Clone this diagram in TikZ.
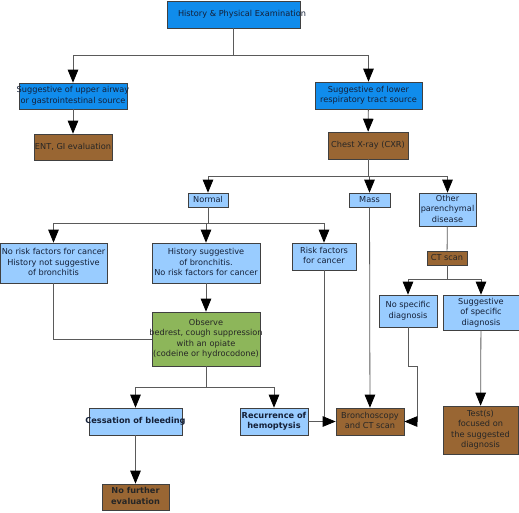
\documentclass[tikz,border=0pt]{standalone}
\usepackage{fontspec}
\setmainfont{DejaVu Sans}
\usetikzlibrary{arrows.meta}
\definecolor{bblue}{RGB}{16,140,236}
\definecolor{lblue}{RGB}{153,204,255}
\definecolor{bbrown}{RGB}{153,102,51}
\definecolor{bgreen}{RGB}{141,182,90}
\definecolor{txtc}{RGB}{20,32,56}
\definecolor{linec}{RGB}{90,90,90}
\newcommand\ovt[1]{\makebox[0pt]{\begin{tabular}{@{}c@{}}#1\end{tabular}}}
\tikzset{
  box/.style={draw=black!75, line width=0.6pt, inner sep=0pt, text=txtc,
    font=\fontsize{8.2}{10.5}\selectfont},
  bluebox/.style={box, fill=bblue},
  lbox/.style={box, fill=lblue},
  brbox/.style={box, fill=bbrown, text=black!85},
  grbox/.style={box, fill=bgreen, text=black!85},
  bf/.style={font=\fontsize{8.2}{10.5}\selectfont\bfseries},
  conn/.style={draw=linec, line width=0.8pt},
  arr/.style={conn, -{Triangle[width=10.5pt,length=13pt,color=black,fill=black]}},
}
\begin{document}
\begin{tikzpicture}[x=1pt,y=-1pt]
\useasboundingbox (0,0) rectangle (519,512);
% nodes
\node[bluebox, minimum width=133pt, minimum height=27pt] (hp) at (233.5,14.5) {\ovt{\hspace*{17pt}History \& Physical Examination}};
\node[bluebox, minimum width=108pt, minimum height=26pt] (upper) at (73,96) {\ovt{Suggestive of upper airway\\or gastrointestinal source}};
\node[brbox, minimum width=78pt, minimum height=26pt] (ent) at (73,147) {\ovt{ENT, GI evaluation}};
\node[bluebox, minimum width=107pt, minimum height=27pt] (lower) at (368.5,95.5) {\ovt{Suggestive of lower\\respiratory tract source}};
\node[brbox, minimum width=80pt, minimum height=27pt] (cxr) at (368,145.5) {\ovt{Chest X-ray (CXR)}};
\node[lbox, minimum width=40pt, minimum height=14pt] (normal) at (208,200) {\ovt{Normal}};
\node[lbox, minimum width=41pt, minimum height=14pt] (mass) at (369.5,200) {\ovt{Mass}};
\node[lbox, minimum width=57pt, minimum height=33pt] (other) at (447.5,209.5) {\ovt{Other\\parenchymal\\disease}};
\node[lbox, minimum width=107pt, minimum height=40pt] (norisk) at (53.5,263) {\ovt{No risk factors for cancer\\History not suggestive\\of bronchitis}};
\node[lbox, minimum width=108pt, minimum height=40pt] (histb) at (206,263) {\ovt{History suggestive\\of bronchitis.\\No risk factors for cancer}};
\node[lbox, minimum width=64pt, minimum height=27pt] (risk) at (324,256.5) {\ovt{Risk factors\\for cancer}};
\node[brbox, minimum width=40pt, minimum height=14pt] (ctscan) at (447,258) {\ovt{CT scan}};
\node[lbox, minimum width=58pt, minimum height=32pt] (nospec) at (408,311) {\ovt{No specific\\diagnosis}};
\node[lbox, minimum width=76pt, minimum height=35pt] (sugspec) at (481,312.5) {\ovt{Suggestive\\of specific\\diagnosis}};
\node[grbox, minimum width=108pt, minimum height=54pt] (observe) at (206,339) {\ovt{Observe\\bedrest, cough suppression\\with an opiate\\(codeine or hydrocodone)}};
\node[lbox, bf, minimum width=93pt, minimum height=27pt] (cess) at (135.5,421.5) {\ovt{Cessation of bleeding}};
\node[lbox, bf, minimum width=68pt, minimum height=27pt] (recur) at (274,421.5) {\ovt{Recurrence of\\hemoptysis}};
\node[brbox, minimum width=68pt, minimum height=27pt] (broncho) at (370,421.5) {\ovt{Bronchoscopy\\and CT scan}};
\node[brbox, minimum width=75pt, minimum height=48pt] (tests) at (480.5,430) {\ovt{Test(s)\\focused on\\the suggested\\diagnosis}};
\node[brbox, bf, minimum width=67pt, minimum height=26pt] (nofurther) at (135.5,497) {\ovt{No further\\evaluation}};
% junctions
\coordinate (j1) at (233.5,55);
\coordinate (j2) at (368,176);
\coordinate (j3) at (208,223);
\coordinate (j4) at (447,279);
\coordinate (j5) at (206,387);
\coordinate (k1) at (408,366);
\coordinate (k2) at (417,366);
% connectors
\draw[conn] (hp.south) -- (j1);
\draw[arr] (j1) -| (upper.north);
\draw[arr] (j1) -| (lower.north);
\draw[arr] (upper) -- (ent);
\draw[arr] (lower) -- (cxr);
\draw[conn] (cxr.south) -- (j2);
\draw[arr] (j2) -| (normal.north);
\draw[arr] (j2) -| (other.north);
\draw[arr] (j2) -| (mass.north);
\draw[conn] (normal.south) -- (j3);
\draw[arr] (j3) -| (norisk.north);
\draw[arr] (j3) -| (histb.north);
\draw[arr] (j3) -| (risk.north);
\draw[conn] (other) -- (ctscan);
\draw[conn] (ctscan.south) -- (j4);
\draw[arr] (j4) -| (nospec.north);
\draw[arr] (j4) -| (sugspec.north);
\draw[arr] (histb) -- (observe);
\draw[conn] (norisk.south) |- (observe.west);
\draw[conn] (observe.south) -- (j5);
\draw[arr] (j5) -| (cess.north);
\draw[arr] (j5) -| (recur.north);
\draw[arr] (cess) -- (nofurther);
\draw[conn] (recur.east) -- (recur.east -| risk.south);
\draw[arr] (risk.south) |- (broncho.west);
\draw[arr] (mass) -- (broncho);
\draw[arr] (nospec.south) -- (k1) -- (k2) |- (broncho.east);
\draw[arr] (sugspec) -- (tests);
\end{tikzpicture}
\end{document}
